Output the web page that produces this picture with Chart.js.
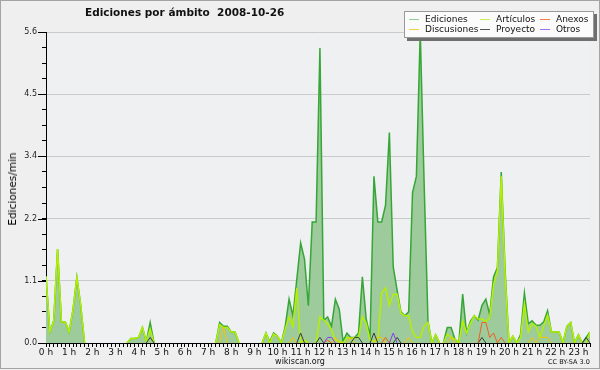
<!DOCTYPE html>
<html>
<head>
<meta charset="utf-8">
<script src="https://cdn.jsdelivr.net/npm/chart.js@4/dist/chart.umd.min.js"></script>
<style>
body { margin: 0; background: #fff; }
#wrap { position: relative; width: 600px; height: 370px; background: #efefef; font-family: 'DejaVu Sans', sans-serif; overflow: hidden; color: #111; }
#frame { position: absolute; left: 0; top: 0; width: 598px; height: 367px; border: 1px solid #a4a4a4; pointer-events: none; }
#title { position: absolute; left: 85px; top: 6px; font-weight: bold; font-size: 10.5px; white-space: pre; }
#ylab { position: absolute; left: 12px; top: 189px; font-size: 10.5px; color: #000; transform: translate(-50%, -50%) rotate(-90deg); white-space: nowrap; }
#src { position: absolute; left: 300px; top: 357px; font-size: 8px; transform: translateX(-50%); }
#lic { position: absolute; left: 548px; top: 358px; font-size: 6.5px; white-space: nowrap; }
#legend { position: absolute; left: 404px; top: 11px; width: 188px; height: 25px; background: #fbfbfb; border: 1px solid #999; box-shadow: 3px 3px 0 #6f6f6f; font-size: 9px; }
.it { position: absolute; white-space: nowrap; line-height: 10px; }
.it b { display: inline-block; width: 10px; height: 0; border-top: 1px solid; vertical-align: middle; margin-right: 6px; }
</style>
</head>
<body>
<div id="wrap">
  <canvas id="c" width="600" height="370"></canvas>
  <div id="title">Ediciones por ámbito  2008-10-26</div>
  <div id="ylab">Ediciones/min</div>
  <div id="legend"></div>
  <div id="src">wikiscan.org</div>
  <div id="lic">CC BY-SA 3.0</div>
  <div id="frame"></div>
</div>
<script>
// one value every 10 minutes, from 0:00 to 23:30
const stepMin = 10;

const ediciones = [
  1.2, 0.2, 0.4, 1.69, 0.38, 0.38, 0.2, 0.6, 1.18, 0.68, 0, 0,
  0, 0, 0, 0, 0, 0, 0, 0, 0, 0, 0.08, 0.08,
  0.1, 0.28, 0.03, 0.37, 0, 0, 0, 0, 0, 0, 0, 0,
  0, 0, 0, 0, 0, 0, 0, 0, 0, 0.37, 0.3, 0.3,
  0.2, 0.2, 0, 0, 0, 0, 0, 0, 0, 0.18, 0.02, 0.18,
  0.12, 0, 0.3, 0.79, 0.49, 1.14, 1.8, 1.51, 0.67, 2.18, 2.18, 5.31,
  0.41, 0.47, 0.3, 0.79, 0.61, 0.03, 0.18, 0.1, 0.1, 0.18, 1.19, 0.43,
  0.12, 3.0, 2.18, 2.18, 2.48, 3.79, 1.37, 0.95, 0.56, 0.49, 0.56, 2.71,
  3.0, 5.6, 2.9, 0.4, 0, 0.15, 0, 0, 0.28, 0.28, 0.07, 0,
  0.88, 0.18, 0.39, 0.49, 0.41, 0.68, 0.79, 0.51, 1.19, 1.36, 3.08, 1.3,
  0, 0.12, 0, 0.15, 0.9, 0.35, 0.4, 0.32, 0.32, 0.38, 0.58, 0.2,
  0.2, 0.2, 0, 0.3, 0.37, 0, 0.15, 0, 0.1, 0.2
];
const articulos = [
  1.2, 0.2, 0.4, 1.69, 0.38, 0.38, 0.2, 0.6, 1.18, 0.68, 0, 0,
  0, 0, 0, 0, 0, 0, 0, 0, 0, 0, 0.08, 0.08,
  0.1, 0.28, 0.03, 0.25, 0, 0, 0, 0, 0, 0, 0, 0,
  0, 0, 0, 0, 0, 0, 0, 0, 0, 0.33, 0.28, 0.28,
  0.2, 0.2, 0, 0, 0, 0, 0, 0, 0, 0.18, 0, 0.16,
  0.12, 0, 0.25, 0.47, 0.3, 0.99, 0, 0.05, 0, 0, 0, 0.47,
  0.41, 0.35, 0.24, 0.05, 0.03, 0, 0.1, 0.08, 0.1, 0.1, 0.47, 0.35,
  0.05, 0.03, 0.05, 0.9, 0.99, 0.68, 0.88, 0.88, 0.54, 0.49, 0.49, 0.2,
  0.1, 0.1, 0.3, 0.37, 0, 0.15, 0, 0, 0.16, 0.1, 0.07, 0,
  0.39, 0.18, 0.35, 0.49, 0.43, 0.43, 0.39, 0.45, 1.05, 1.3, 3.0, 1.2,
  0, 0.12, 0, 0.1, 0.7, 0.2, 0.35, 0.3, 0.1, 0.3, 0.5, 0.2,
  0.2, 0.2, 0, 0.3, 0.37, 0, 0.15, 0, 0, 0.2
];
const discusiones = [
  0, 0, 0, 0, 0, 0, 0, 0, 0, 0, 0, 0,
  0, 0, 0, 0, 0, 0, 0, 0, 0, 0, 0, 0,
  0, 0, 0, 0, 0, 0, 0, 0, 0, 0, 0, 0,
  0, 0, 0, 0, 0, 0, 0, 0, 0, 0, 0.28, 0,
  0, 0, 0, 0, 0, 0, 0, 0, 0, 0, 0, 0,
  0, 0, 0, 0, 0.1, 0, 0, 0, 0, 0, 0, 0,
  0, 0, 0, 0.1, 0, 0, 0, 0.1, 0, 0, 0, 0,
  0, 0, 0.1, 0.1, 0, 0, 0, 0, 0, 0, 0.1, 0,
  0, 0, 0, 0, 0, 0, 0, 0, 0, 0.1, 0, 0,
  0, 0, 0, 0, 0, 0, 0, 0, 0, 0, 0, 0,
  0, 0, 0, 0, 0, 0, 0.1, 0, 0.1, 0.1, 0.1, 0,
  0, 0, 0, 0, 0, 0, 0, 0, 0, 0
];
const proyecto = [
  0, 0, 0, 0, 0, 0, 0, 0, 0, 0, 0, 0,
  0, 0, 0, 0, 0, 0, 0, 0, 0, 0, 0, 0,
  0, 0, 0, 0.1, 0, 0, 0, 0, 0, 0, 0, 0,
  0, 0, 0, 0, 0, 0, 0, 0, 0, 0, 0, 0,
  0, 0, 0, 0, 0, 0, 0, 0, 0, 0, 0, 0,
  0, 0, 0, 0, 0, 0, 0.18, 0, 0, 0, 0, 0.1,
  0, 0, 0, 0, 0, 0, 0, 0, 0.1, 0.1, 0, 0,
  0, 0.18, 0, 0, 0, 0, 0, 0.1, 0, 0, 0, 0,
  0, 0, 0, 0, 0, 0, 0, 0, 0, 0, 0, 0,
  0, 0, 0, 0, 0, 0.1, 0, 0, 0, 0, 0, 0,
  0, 0, 0, 0, 0, 0, 0, 0, 0, 0, 0, 0,
  0, 0, 0, 0, 0, 0, 0, 0, 0.1, 0
];
const anexos = [
  0, 0, 0, 0, 0, 0, 0, 0, 0, 0, 0, 0,
  0, 0, 0, 0, 0, 0, 0, 0, 0, 0, 0, 0,
  0, 0, 0, 0, 0, 0, 0, 0, 0, 0, 0, 0,
  0, 0, 0, 0, 0, 0, 0, 0, 0, 0, 0, 0,
  0, 0, 0, 0, 0, 0, 0, 0, 0, 0, 0, 0,
  0, 0, 0, 0, 0, 0, 0, 0, 0, 0, 0, 0,
  0, 0.05, 0, 0, 0, 0, 0, 0, 0, 0, 0, 0,
  0, 0, 0, 0, 0.1, 0, 0, 0, 0, 0, 0, 0,
  0, 0, 0, 0, 0, 0, 0, 0, 0, 0, 0, 0,
  0, 0, 0, 0, 0, 0.37, 0.37, 0.1, 0.18, 0, 0.1, 0,
  0, 0, 0, 0, 0, 0, 0, 0, 0, 0, 0, 0,
  0, 0, 0, 0, 0, 0, 0, 0, 0, 0
];
const otros = [
  0, 0, 0, 0, 0, 0, 0, 0, 0, 0, 0, 0,
  0, 0, 0, 0, 0, 0, 0, 0, 0, 0, 0, 0,
  0, 0, 0, 0, 0, 0, 0, 0, 0, 0, 0, 0,
  0, 0, 0, 0, 0, 0, 0, 0, 0, 0, 0, 0,
  0, 0, 0, 0, 0, 0, 0, 0, 0, 0, 0, 0,
  0, 0, 0, 0, 0, 0, 0, 0, 0, 0, 0, 0,
  0, 0.1, 0.1, 0, 0, 0, 0, 0, 0, 0, 0, 0,
  0, 0, 0, 0, 0, 0, 0.18, 0, 0, 0, 0, 0,
  0, 0, 0, 0, 0, 0, 0, 0, 0, 0, 0, 0,
  0, 0, 0, 0, 0, 0, 0, 0, 0, 0, 0, 0,
  0, 0, 0, 0, 0, 0, 0, 0, 0, 0, 0, 0,
  0, 0, 0, 0, 0, 0, 0, 0, 0, 0
];

const hourLabels = ['0 h', '1 h', '2 h', '3 h', '4 h', '5 h', '6 h', '7 h', '8 h', '9 h', '10 h', '11 h',
  '12 h', '13 h', '14 h', '15 h', '16 h', '17 h', '18 h', '19 h', '20 h', '21 h', '22 h', '23 h'];
const yMajor = [0, 1.12, 2.24, 3.36, 4.48, 5.6];
const yLabels = ['0.0', '1.1', '2.2', '3.4', '4.5', '5.6'];

const pts = arr => arr.map((v, i) => ({ x: i * stepMin, y: v }));

const series = [
  { label: 'Ediciones', data: ediciones, color: '#36a636', width: 1.5, order: 6 },
  { label: 'Discusiones', data: discusiones, color: '#f5c400', width: 1, order: 4 },
  { label: 'Artículos', data: articulos, color: '#b4f000', width: 1.5, order: 5 },
  { label: 'Proyecto', data: proyecto, color: '#3c3c3c', width: 1, order: 3 },
  { label: 'Anexos', data: anexos, color: '#f0601c', width: 1, order: 2 },
  { label: 'Otros', data: otros, color: '#8a3cf0', width: 1, order: 1 }
];
// legend swatch colours are a bit lighter in the original
const swatch = { 'Ediciones': '#8fd08f', 'Discusiones': '#f5d23c', 'Artículos': '#c8f050', 'Proyecto': '#555', 'Anexos': '#f08050', 'Otros': '#a070f0' };

// a run of zeros lies under the x axis in the original, so don't stroke it
const flatZero = c => c.p0.parsed.y === 0 && c.p1.parsed.y === 0;

const datasets = series.map(s => ({
  label: s.label,
  data: pts(s.data),
  borderColor: s.color,
  borderWidth: s.width,
  fill: s.label === 'Ediciones' ? 'origin' : false,
  backgroundColor: s.label === 'Ediciones' ? '#9dcb9b' : 'transparent',
  segment: { borderColor: c => (flatZero(c) ? 'rgba(0,0,0,0)' : undefined) },
  order: s.order
}));

// legend: 2 rows x 3 columns, same order as the original
const legPos = [[4, 2], [4, 12], [75, 2], [75, 12], [135, 2], [135, 12]];
const leg = document.getElementById('legend');
series.forEach((s, i) => {
  const d = document.createElement('div');
  d.className = 'it';
  d.style.left = legPos[i][0] + 'px';
  d.style.top = legPos[i][1] + 'px';
  d.innerHTML = '<b style="border-color:' + swatch[s.label] + '"></b>' + s.label;
  leg.appendChild(d);
});

const plotBg = {
  id: 'plotBg',
  beforeDraw(chart) {
    const { ctx, chartArea: a } = chart;
    ctx.save();
    ctx.fillStyle = '#eef0f2';
    ctx.fillRect(a.left, a.top, a.right - a.left, a.bottom - a.top);
    ctx.restore();
  }
};
// longer tick marks for the labelled y values
const majorTicks = {
  id: 'majorTicks',
  afterDraw(chart) {
    const { ctx, chartArea: a, scales } = chart;
    ctx.save();
    ctx.strokeStyle = '#000';
    ctx.lineWidth = 1;
    yMajor.forEach(v => {
      const y = Math.round(scales.y.getPixelForValue(v)) + 0.5;
      ctx.beginPath();
      ctx.moveTo(a.left - 8, y);
      ctx.lineTo(a.left, y);
      ctx.stroke();
    });
    ctx.restore();
  }
};

new Chart(document.getElementById('c'), {
  type: 'line',
  data: { datasets },
  options: {
    responsive: false,
    animation: false,
    layout: { padding: { top: 32, right: 10, left: 0, bottom: 0 } },
    plugins: { legend: { display: false }, tooltip: { enabled: false } },
    elements: { point: { radius: 0 }, line: { tension: 0 } },
    scales: {
      x: {
        type: 'linear', min: 0, max: (ediciones.length - 1) * stepMin, z: 1,
        afterFit: s => { s.height = 27; },
        afterBuildTicks: s => {
          const t = [];
          for (let m = 0; m <= s.max; m += stepMin) t.push({ value: m });
          s.ticks = t;
        },
        ticks: {
          autoSkip: false, maxRotation: 0, padding: 0, color: '#111',
          font: { family: 'DejaVu Sans', size: 9 },
          callback: v => (v % 60 === 0 ? hourLabels[v / 60] : '')
        },
        grid: { drawOnChartArea: false, tickLength: 4, color: '#000' },
        border: { color: '#000', width: 1 }
      },
      y: {
        min: 0, max: 5.6, z: 1,
        afterFit: s => { s.width = 46; },
        afterBuildTicks: s => {
          const t = [];
          for (let k = 0; k < yMajor.length - 1; k++) {
            for (let j = 0; j < 4; j++) t.push({ value: yMajor[k] + (yMajor[k + 1] - yMajor[k]) * j / 4 });
          }
          t.push({ value: yMajor[yMajor.length - 1] });
          s.ticks = t;
        },
        ticks: {
          padding: 5, color: '#222',
          font: { family: 'DejaVu Sans', size: 8 },
          callback: (v, i) => (i % 4 === 0 ? yLabels[i / 4] : '')
        },
        grid: {
          color: c => (c.index % 4 === 0 && c.index > 0 ? '#c9cacc' : 'rgba(0,0,0,0)'),
          tickColor: '#000', tickLength: 4
        },
        border: { color: '#000', width: 1 }
      }
    }
  },
  plugins: [plotBg, majorTicks]
});
</script>
</body>
</html>
